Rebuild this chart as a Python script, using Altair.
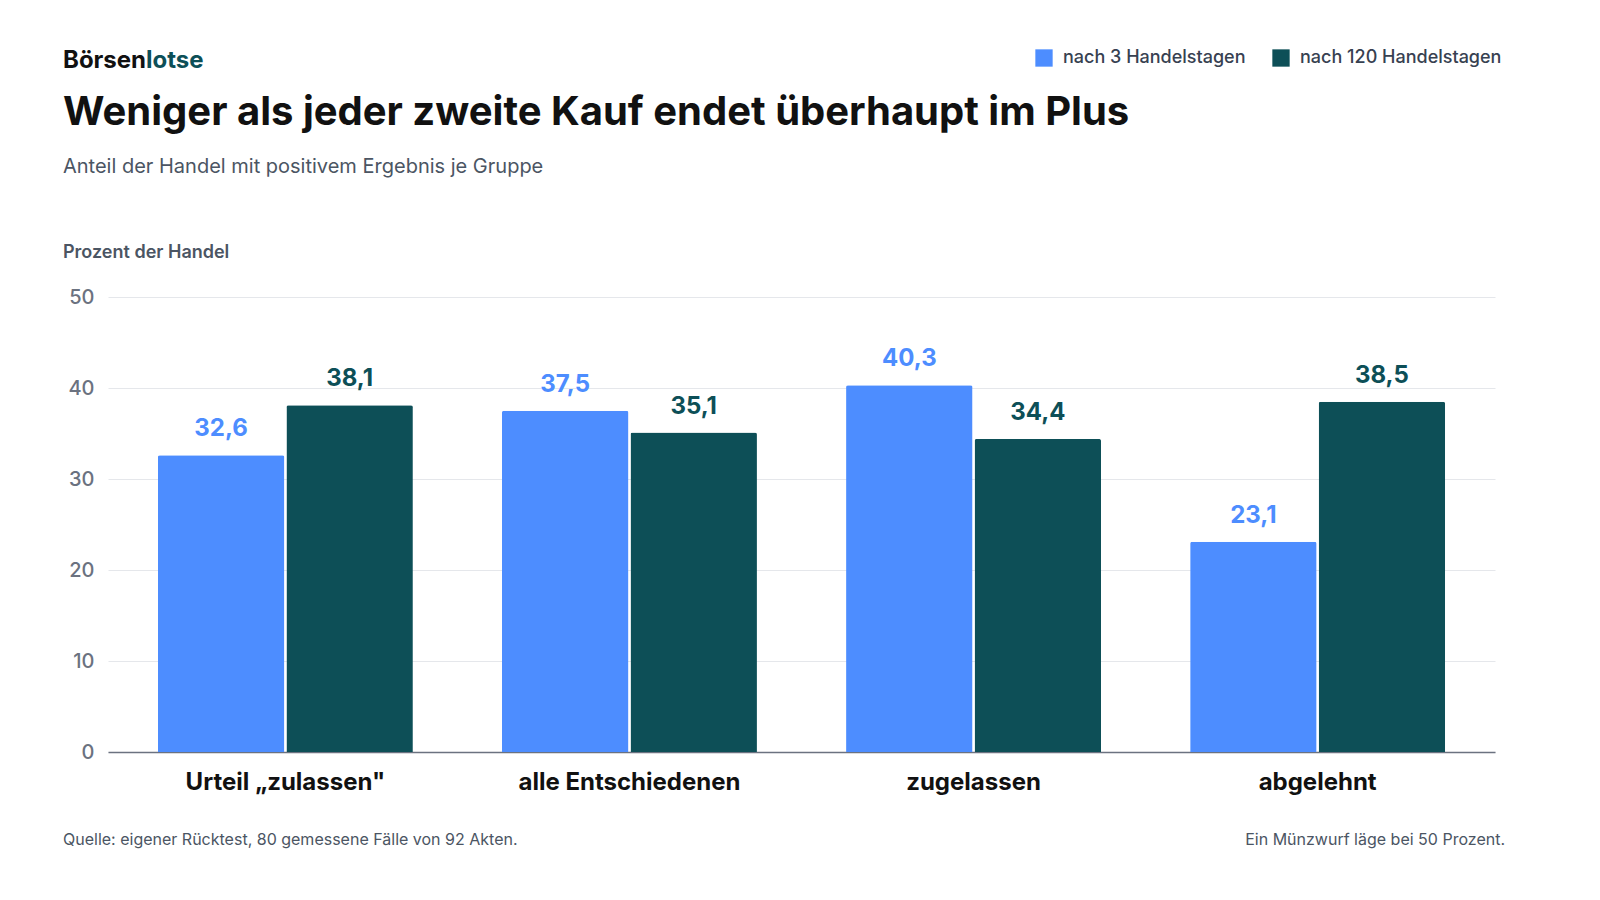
import pandas as pd
import altair as alt

# Data
groups = ['Urteil „zulassen"', "alle Entschiedenen", "zugelassen", "abgelehnt"]
series = ["nach 3 Handelstagen", "nach 120 Handelstagen"]
after_3 = [32.6, 37.5, 40.3, 23.1]
after_120 = [38.1, 35.1, 34.4, 38.5]
colors = ["#4d8dff", "#0d4f57"]

rows = []
for g, a, b in zip(groups, after_3, after_120):
    rows.append({"Gruppe": g, "Serie": series[0], "Wert": a})
    rows.append({"Gruppe": g, "Serie": series[1], "Wert": b})
df = pd.DataFrame(rows)
df["Label"] = df["Wert"].map(lambda v: f"{v:.1f}".replace(".", ","))

FONT = "Inter"
W, H = 1387, 455

color = alt.Color(
    "Serie:N",
    scale=alt.Scale(domain=series, range=colors),
    legend=alt.Legend(
        title=None, orient="none", direction="horizontal",
        legendX=W - 460, legendY=-248, symbolType="square", symbolSize=300,
        symbolStrokeWidth=0, labelFontSize=18, labelFont=FONT, labelFontWeight=500,
        labelColor="#374151", columnPadding=26, labelOffset=10, labelLimit=0,
    ),
)

x = alt.X("Gruppe:N", sort=groups, title=None,
          scale=alt.Scale(paddingInner=0.259, paddingOuter=0.145),
          axis=alt.Axis(labelAngle=0, labelFontSize=24, labelFontWeight="bold",
                        labelColor="#111111", labelFont=FONT, ticks=False,
                        domainColor="#6b7280", domainWidth=1.5, labelPadding=18,
                        labelLimit=0))
xo = alt.XOffset("Serie:N", sort=series, scale=alt.Scale(paddingInner=0.016))
y = alt.Y("Wert:Q", title=None, scale=alt.Scale(domain=[0, 50]),
          axis=alt.Axis(values=[0, 10, 20, 30, 40, 50], labelFontSize=20,
                        labelColor="#6b7280", labelFont=FONT, labelFontWeight=500,
                        ticks=False, domain=False, gridColor="#e5e7eb",
                        labelPadding=14))

base = alt.Chart(df)
bars = base.mark_bar(cornerRadiusTopLeft=2, cornerRadiusTopRight=2).encode(
    x=x, xOffset=xo, y=y, color=color)
labels = base.mark_text(dy=-14, fontSize=24, fontWeight="bold", font=FONT,
                        baseline="bottom").encode(
    x=x, xOffset=xo, y=y, text="Label:N",
    color=alt.Color("Serie:N", scale=alt.Scale(domain=series, range=colors), legend=None))

def note(txt, px, py, size, weight="normal", col="#111111", align="left"):
    return alt.Chart(pd.DataFrame({"t": [txt]})).mark_text(
        align=align, baseline="alphabetic", fontSize=size, fontWeight=weight,
        font=FONT, color=col).encode(x=alt.value(px), y=alt.value(py), text="t:N")

deco = [
    note("Börsen", -45, -229, 24, "bold", "#111111"),
    note("lotse", 38, -229, 24, "bold", "#0d4f57"),
    note("Weniger als jeder zweite Kauf endet überhaupt im Plus", -45, -172, 40, "bold", "#111111"),
    note("Anteil der Handel mit positivem Ergebnis je Gruppe", -45, -124, 20, "normal", "#4b5563"),
    note("Prozent der Handel", -45, -39, 18, 600, "#4b5563"),
    note("Quelle: eigener Rücktest, 80 gemessene Fälle von 92 Akten.", -45, 548, 16, "normal", "#4b5563"),
    note("Ein Münzwurf läge bei 50 Prozent.", W + 10, 548, 16, "normal", "#4b5563", "right"),
]

chart = alt.layer(bars, labels, *deco).properties(
    width=W, height=H, autosize="none",
    padding={"left": 100, "top": 289, "right": 1600 - 16 - 100 - W, "bottom": 900 - 16 - 289 - H},
    background="white",
).configure_view(stroke=None)

chart.save("out.html", embed_options={"renderer": "svg", "actions": False})
